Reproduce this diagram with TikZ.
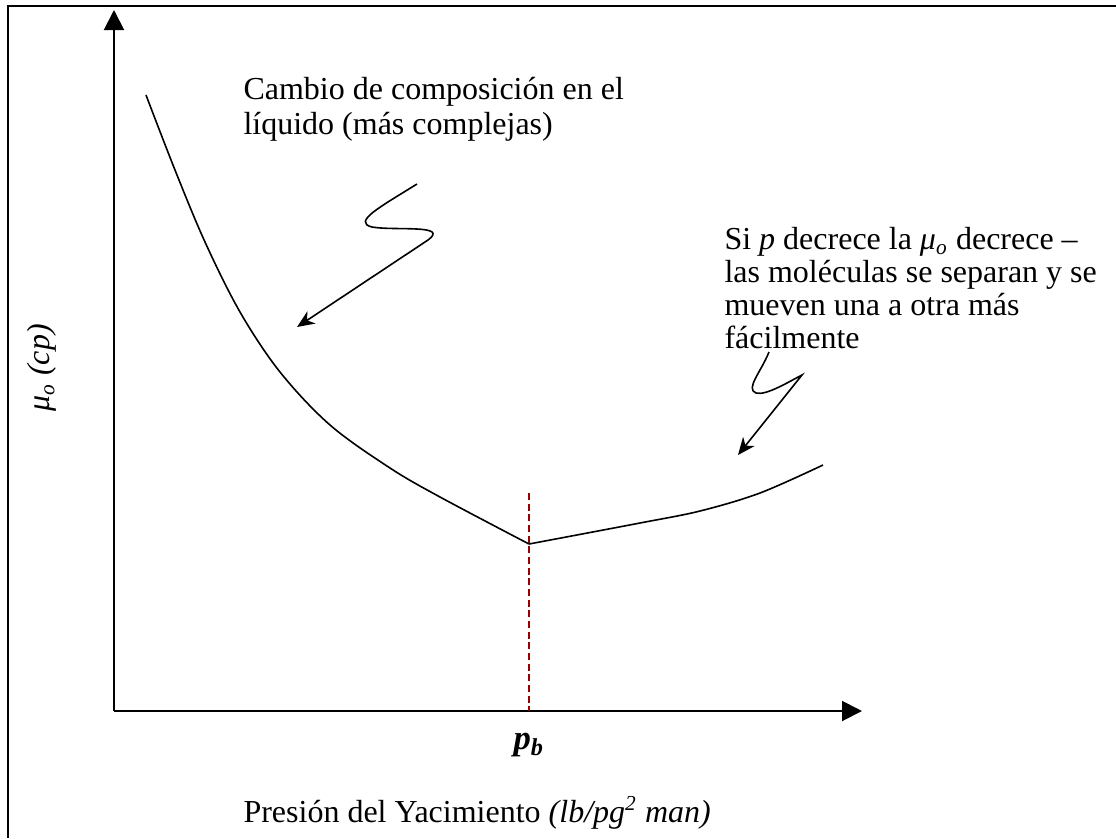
\documentclass[tikz,border=0pt]{standalone}
\usepackage{fontspec}
\setmainfont{Liberation Serif}
\usetikzlibrary{arrows.meta}
\definecolor{pbred}{RGB}{153,0,0}
\tikzset{
  axis/.style={line width=0.75pt,-{Triangle[length=7.5pt,width=7.5pt]}},
  curve/.style={line width=0.6pt},
  note/.style={align=left,inner sep=0pt,font=\fontsize{12}{13}\selectfont},
  pointer/.style={line width=0.6pt,-{Stealth[length=6.5pt,width=5.5pt,inset=2pt]}}
}

\begin{document}
\begin{tikzpicture}[x=0.375pt,y=-0.375pt]
  \useasboundingbox (0,0) rectangle (1116,838);
  % frame, cut at right and bottom
  \draw[line width=0.9pt] (8,838) -- (8,6) -- (1116,6);

  \coordinate (orig) at (114,711);
  \coordinate (ytop) at (114,10);
  \coordinate (xend) at (862,711);
  \coordinate (pbmin) at (529,711);
  \coordinate (pbtop) at (529,493);

  \draw[axis] (orig) -- (ytop);
  \draw[axis] (orig) -- (xend);
  \draw[pbred,line width=0.6pt,dash pattern=on 2.6pt off 1.4pt] (pbtop) -- (pbmin);

  % viscosity curve
  \draw[curve] plot[smooth,tension=0.55] coordinates
    {(146,95) (175,170) (205,242) (240,312) (280,372) (330,425) (390,468) (440,497) (529,544)};
  \draw[curve] plot[smooth,tension=0.55] coordinates
    {(529,544) (640,523) (700,511) (760,493) (823,465)};

  \node[note,anchor=north west] (liquido) at (243,77)
    {Cambio de composición en el\\ líquido (más complejas)};
  \node[note,anchor=north west,font=\fontsize{12}{12.4}\selectfont] (moleculas) at (724,227)
    {Si \textit{p} decrece la \textit{μ}\textsubscript{\textit{o}} decrece –\\
     las moléculas se separan y se\\ mueven una a otra más\\ fácilmente};

  \draw[pointer] (417,184) .. controls (380,207) and (352,222) .. (372,227)
    .. controls (395,231) and (450,224) .. (428,240) -- (297,327);
  \draw[pointer] (769,352) .. controls (761,372) and (745,389) .. (756,393)
    .. controls (766,396) and (790,381) .. (802,375) -- (738,455);

  \node[font=\fontsize{13}{14}\selectfont\bfseries\itshape] (pb) at (529,745)
    {p\textsubscript{b}};
  \node[note,rotate=90] (viscosidad) at (42,368)
    {\textit{μ}\textsubscript{\textit{o}} \textit{(cp)}};
  \node[note,anchor=base west] (presion) at (243,822)
    {Presión del Yacimiento \textit{(lb/pg\textsuperscript{2} man)}};
\end{tikzpicture}
\end{document}
